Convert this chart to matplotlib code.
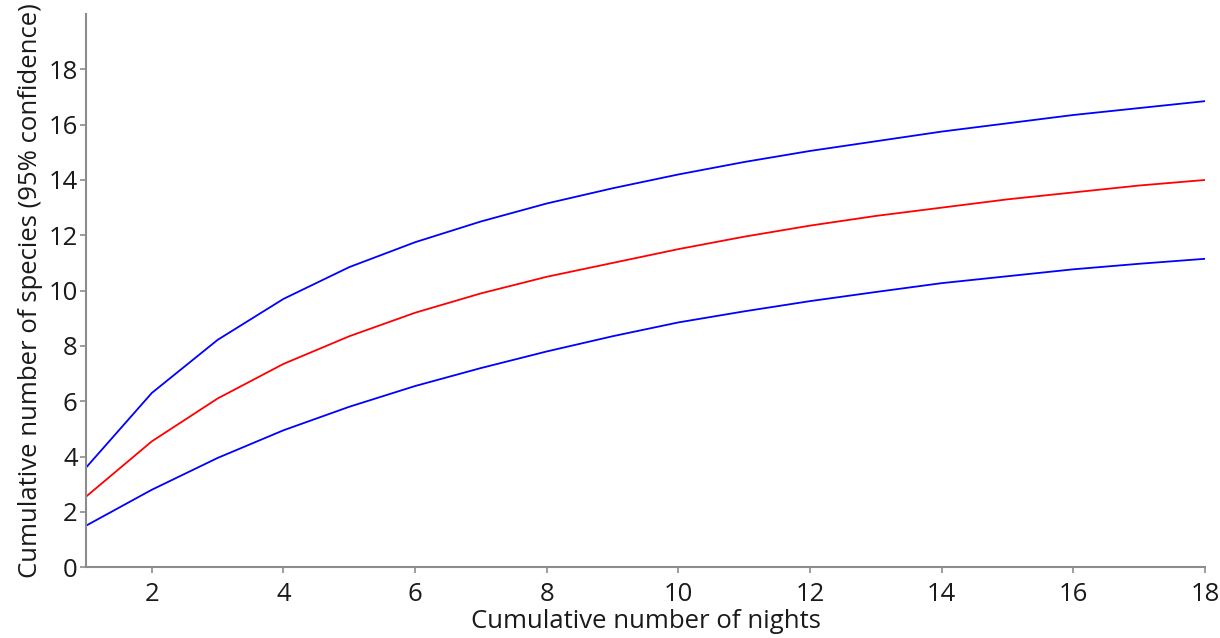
import matplotlib
matplotlib.use('agg')
import matplotlib.pyplot as plt

nights = list(range(1, 19))
mean_species = [2.55, 4.55, 6.1, 7.35, 8.35, 9.2, 9.9, 10.5, 11.0, 11.5,
                11.95, 12.35, 12.7, 13.0, 13.3, 13.55, 13.8, 14.0]
upper_ci = [3.6, 6.3, 8.22, 9.7, 10.85, 11.75, 12.5, 13.15, 13.7, 14.2,
            14.65, 15.05, 15.4, 15.75, 16.05, 16.35, 16.6, 16.85]
lower_ci = [1.5, 2.8, 3.95, 4.95, 5.8, 6.55, 7.2, 7.8, 8.35, 8.85,
            9.25, 9.62, 9.95, 10.27, 10.52, 10.77, 10.97, 11.15]

plt.rcParams['font.family'] = ['Open Sans', 'DejaVu Sans']

fig = plt.figure(figsize=(12.2, 6.38), dpi=100)
ax = fig.add_axes([0.0705, 0.111, 0.9172, 0.867])

ax.plot(nights, upper_ci, color='#0000ff', lw=1.3)
ax.plot(nights, mean_species, color='#ff0000', lw=1.3)
ax.plot(nights, lower_ci, color='#0000ff', lw=1.3)

ax.set_xlim(1, 18)
ax.set_ylim(0, 20)
ax.set_xticks(range(2, 19, 2))
ax.set_yticks(range(0, 19, 2))

for s in ['top', 'right']:
    ax.spines[s].set_visible(False)
for s in ['left', 'bottom']:
    ax.spines[s].set_color('#8c8c8c')
    ax.spines[s].set_linewidth(1.5)

ax.tick_params(axis='both', colors='#8c8c8c', labelcolor='#1a1a1a',
               labelsize=18.5, length=4, width=1.2, direction='out')
ax.tick_params(axis='x', pad=7)
ax.tick_params(axis='y', pad=2)

ax.set_xlabel('Cumulative number of nights', fontsize=18.5, color='#1a1a1a', labelpad=1)
ax.set_ylabel('Cumulative number of species (95% confidence)', fontsize=18.5,
              color='#1a1a1a', labelpad=4)

fig.savefig('out.png', dpi=100)
